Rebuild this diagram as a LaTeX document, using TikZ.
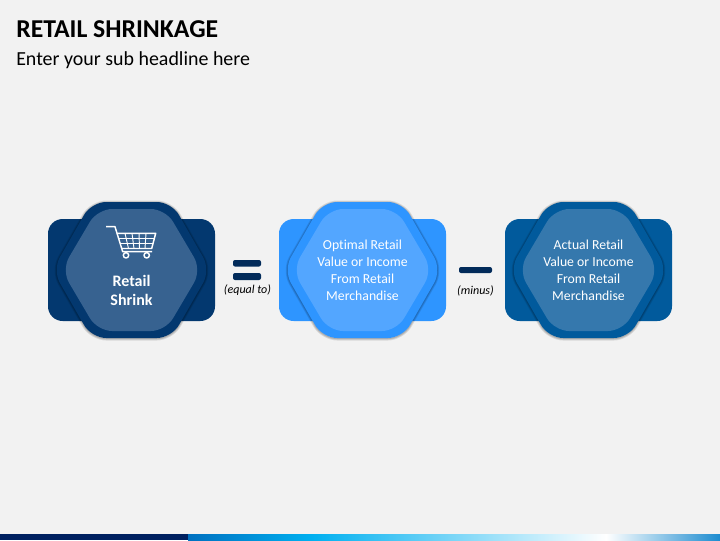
\documentclass[tikz,border=0pt]{standalone}
\usepackage{fontspec}
\setmainfont[Ligatures=NoCommon]{Carlito}
\usetikzlibrary{positioning}
\definecolor{pagegray}{HTML}{F2F2F2}
\definecolor{navycard}{HTML}{03386F}
\definecolor{navyhex}{HTML}{376290}
\definecolor{skycard}{HTML}{2E95FF}
\definecolor{skyhex}{HTML}{53A6FF}
\definecolor{bluecard}{HTML}{015A9C}
\definecolor{bluehex}{HTML}{3578AD}
\definecolor{signnavy}{HTML}{022B5A}
\definecolor{barnavy}{HTML}{002060}
\definecolor{barblue}{HTML}{0070C0}
\definecolor{barcyan}{HTML}{00B0F0}
\definecolor{barend}{HTML}{1C8CD0}
\tikzset{
    cardtext/.style = {white, align=center, inner sep=0pt, font=\fontsize{10.3}{12.75}\selectfont},
    signtext/.style = {black, inner sep=0pt, font=\fontsize{9}{10}\selectfont\itshape},
    signbar/.style = {signnavy, rounded corners=1.5},
    cartline/.style = {white, line width=1.1pt, line join=round}
}
% card behind, soft edge, ring and inner hexagon
\newcommand{\hexcard}[3]{
    \fill[#2, rounded corners=11] (#1-83.5,219) rectangle (#1+83.5,321);
    \foreach \w in {3,1.8,0.8}
        \draw[black, opacity=0.1, line width=\w, line join=round, rounded corners=11]
            (#1-79,270.5) -- (#1-40,202.5) -- (#1+40,202.5) -- (#1+79,270.5) -- (#1+40,338.5) -- (#1-40,338.5) -- cycle;
    \fill[#2, rounded corners=11]
        (#1-79,270) -- (#1-40,202) -- (#1+40,202) -- (#1+79,270) -- (#1+40,338) -- (#1-40,338) -- cycle;
    \fill[#3, rounded corners=11]
        (#1-70,270) -- (#1-34,209) -- (#1+34,209) -- (#1+70,270) -- (#1+34,331) -- (#1-34,331) -- cycle;
}
\begin{document}
\begin{tikzpicture}[x=0.75pt, y=-0.75pt]
    \fill[pagegray] (0,0) rectangle (720,540);
    \node[anchor=west, inner sep=0pt, font=\fontsize{19.3}{21}\selectfont\bfseries] (title) at (16,29) {RETAIL SHRINKAGE};
    \node[anchor=west, inner sep=0pt, font=\fontsize{14.95}{17}\selectfont] (subtitle) at (16,60) {Enter your sub headline here};

    \hexcard{131.5}{navycard}{navyhex}
    \hexcard{362.5}{skycard}{skyhex}
    \hexcard{588.5}{bluecard}{bluehex}

    % shopping cart
    \draw[cartline] (106,226.7) -- (115,226.7) -- (122.7,251.7) -- (152,251.7);
    \draw[cartline] (117,233.3) -- (155.7,233.3) -- (151.7,248.5) -- (121.5,248.5);
    \draw[cartline, line width=0.7pt] (119,238.3) -- (154.4,238.3);
    \draw[cartline, line width=0.7pt] (120.2,243.4) -- (153,243.4);
    \foreach \x/\y in {125/128, 132/133.5, 139/139, 146/144.5}
        \draw[cartline, line width=0.7pt] (\x,233.3) -- (\y+0.5,248.5);
    \draw[cartline, fill=navyhex] (126,255.3) circle (2.7);
    \draw[cartline, fill=navyhex] (146.7,255.3) circle (2.7);

    \node[cardtext, font=\fontsize{12}{14.25}\selectfont\bfseries] (shrink) at (131.5,290.5) {Retail\\Shrink};
    \node[cardtext] (optimal) at (362.5,270) {Optimal Retail\\Value or Income\\From Retail\\Merchandise};
    \node[cardtext] (actual) at (588.5,270) {Actual Retail\\Value or Income\\From Retail\\Merchandise};

    \fill[signbar] (233,260) rectangle (261,266.5);
    \fill[signbar] (233,273) rectangle (261,280);
    \node[signtext] (equal) at (247.5,290.5) {(equal to)};
    \fill[signbar] (459,267) rectangle (492,273);
    \node[signtext] (minus) at (475.5,290.5) {(minus)};

    % bottom strip
    \fill[barnavy] (0,534) rectangle (188,540);
    \fill[left color=barblue, right color=barcyan] (188,534) rectangle (312,540);
    \fill[left color=barcyan, right color=white] (312,534) rectangle (606,540);
    \fill[left color=white, right color=barend] (606,534) rectangle (720,540);
\end{tikzpicture}
\end{document}
